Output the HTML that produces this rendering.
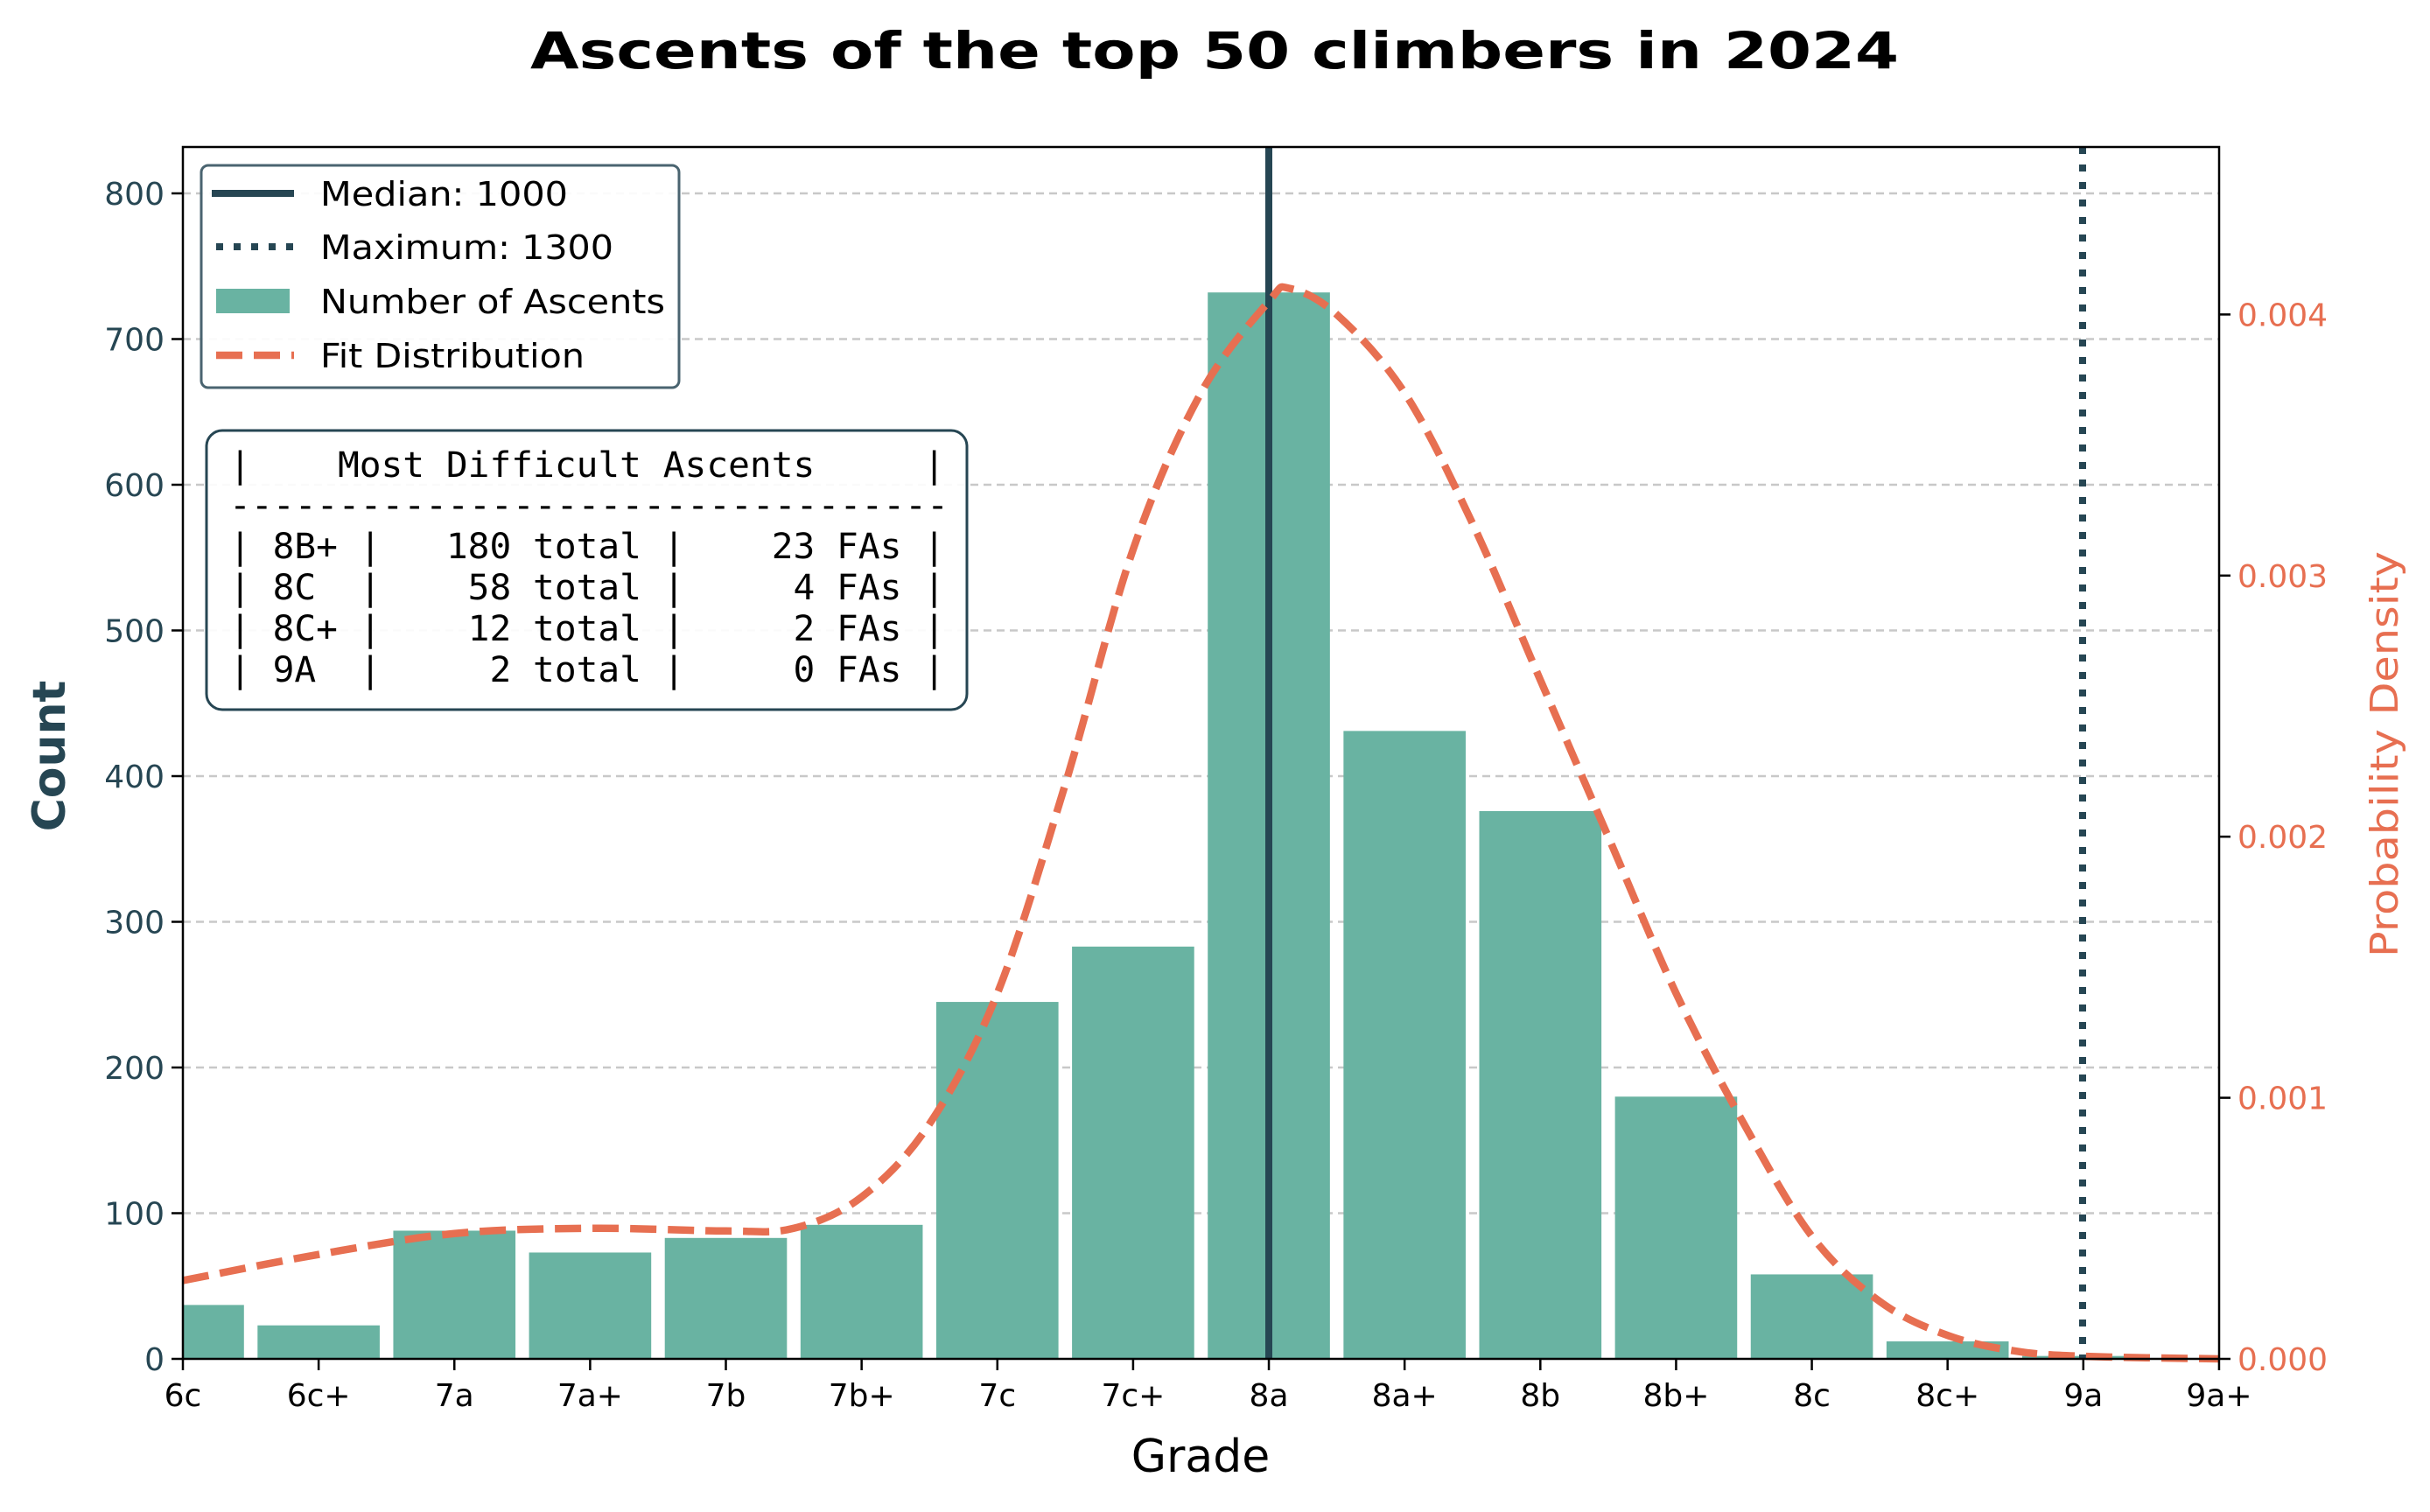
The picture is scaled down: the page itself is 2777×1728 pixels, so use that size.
<!DOCTYPE html>
<html><head><meta charset="utf-8"><style>
html,body{margin:0;padding:0;background:#fff;}
svg{display:block;}
text{font-family:"DejaVu Sans","Liberation Sans",sans-serif;}
.mono text{font-family:"DejaVu Sans Mono","Liberation Mono",monospace;white-space:pre;}
</style></head><body>
<svg id="s" width="2777" height="1728" viewBox="0 0 2777 1728" xmlns="http://www.w3.org/2000/svg">
<rect width="2777" height="1728" fill="#fff"/>
<g id="grid"></g>
<g id="bars"></g>
<line x1="1450" y1="168" x2="1450" y2="1553" stroke="#264653" stroke-width="8"/>
<line x1="2380" y1="168" x2="2380" y2="1553" stroke="#264653" stroke-width="8" stroke-dasharray="8,12"/>
<path id="curve" fill="none" stroke="#e76f51" stroke-width="8.5" stroke-dasharray="30,13"/>
<rect x="209" y="168" width="2327" height="1385" fill="none" stroke="#000" stroke-width="2.5"/>
<g id="ticks"></g>
<text x="1388" y="78" font-size="58" font-weight="bold" text-anchor="middle" textLength="1564" lengthAdjust="spacingAndGlyphs">Ascents of the top 50 climbers in 2024</text>
<text x="1372" y="1682" font-size="52" text-anchor="middle">Grade</text>
<text transform="translate(74,864) rotate(-90)" font-size="52" font-weight="bold" fill="#264653" text-anchor="middle">Count</text>
<text transform="translate(2740,862) rotate(-90)" font-size="44" fill="#e76f51" text-anchor="middle" textLength="464" lengthAdjust="spacingAndGlyphs">Probability Density</text>
<rect x="230" y="189" width="546" height="254" rx="8" fill="#fff" fill-opacity="0.9" stroke="#4a6470" stroke-width="3"/>
<line x1="242" y1="221" x2="336" y2="221" stroke="#264653" stroke-width="8"/>
<line x1="247" y1="282" x2="336" y2="282" stroke="#264653" stroke-width="8" stroke-dasharray="8,12"/>
<rect x="247" y="330" width="84" height="28" fill="#69b3a2"/>
<line x1="247" y1="406" x2="336" y2="406" stroke="#e76f51" stroke-width="8.5" stroke-dasharray="30,13"/>
<g font-size="38">
<text x="366" y="235" textLength="283" lengthAdjust="spacingAndGlyphs">Median: 1000</text>
<text x="366" y="296" textLength="335" lengthAdjust="spacingAndGlyphs">Maximum: 1300</text>
<text x="366" y="358" textLength="394" lengthAdjust="spacingAndGlyphs">Number of Ascents</text>
<text x="366" y="420" textLength="302" lengthAdjust="spacingAndGlyphs">Fit Distribution</text>
</g>
<rect x="236" y="492" width="869" height="319" rx="18" fill="#fff" fill-opacity="0.9" stroke="#264653" stroke-width="3"/>
<g class="mono" font-size="40" fill="#000">
<text x="262" y="545" xml:space="preserve" textLength="818" lengthAdjust="spacingAndGlyphs">|    Most Difficult Ascents     |</text>
<text x="262" y="591" xml:space="preserve" textLength="822" lengthAdjust="spacingAndGlyphs">---------------------------------</text>
<text x="262" y="638" xml:space="preserve" textLength="818" lengthAdjust="spacingAndGlyphs">| 8B+ |   180 total |    23 FAs |</text>
<text x="262" y="685" xml:space="preserve" textLength="818" lengthAdjust="spacingAndGlyphs">| 8C  |    58 total |     4 FAs |</text>
<text x="262" y="732" xml:space="preserve" textLength="818" lengthAdjust="spacingAndGlyphs">| 8C+ |    12 total |     2 FAs |</text>
<text x="262" y="779" xml:space="preserve" textLength="818" lengthAdjust="spacingAndGlyphs">| 9A  |     2 total |     0 FAs |</text>
</g>
</svg>
<script>
const NS="http://www.w3.org/2000/svg";
const X0=209,DX=155.13,Y0=1553,YS=1.665,PS=298400;
function el(p,t,a,txt){const e=document.createElementNS(NS,t);for(const k in a)e.setAttribute(k,a[k]);if(txt!==undefined)e.textContent=txt;document.getElementById(p).appendChild(e);return e;}
for(let v=100;v<=800;v+=100){const y=Y0-v*YS;el("grid","line",{x1:209,x2:2536,y1:y,y2:y,stroke:"#c8c8c8","stroke-width":2.5,"stroke-dasharray":"9,6"});}
const vals=[37,23,88,73,83,92,245,283,732,431,376,180,58,12,2];
vals.forEach((v,i)=>{let x=X0+i*DX-0.45*DX,w=0.9*DX;if(x<X0){w-=X0-x;x=X0;}el("bars","rect",{x:x,y:Y0-v*YS,width:w,height:v*YS,fill:"#69b3a2"});});
const labs=["6c","6c+","7a","7a+","7b","7b+","7c","7c+","8a","8a+","8b","8b+","8c","8c+","9a","9a+"];
labs.forEach((l,i)=>{const x=X0+i*DX;el("ticks","line",{x1:x,x2:x,y1:1553,y2:1566,stroke:"#000","stroke-width":2.5});el("ticks","text",{x:x,y:1607,"font-size":36,"text-anchor":"middle"},l);});
for(let v=0;v<=800;v+=100){const y=Y0-v*YS;el("ticks","line",{x1:196,x2:209,y1:y,y2:y,stroke:"#000","stroke-width":2.5});el("ticks","text",{x:188,y:y+13,"font-size":36,"text-anchor":"end",fill:"#264653"},String(v));}
for(let k=0;k<=4;k++){const y=Y0-k*0.001*PS;el("ticks","line",{x1:2536,x2:2549,y1:y,y2:y,stroke:"#000","stroke-width":2.5});el("ticks","text",{x:2557,y:y+13,"font-size":36,fill:"#e76f51"},(k*0.001).toFixed(3));}
const P=[[0,.0003],[1,.0004],[2,.00048],[3,.0005],[4,.00049],[4.5,.0005],[5,.00062],[5.5,.0009],[6,.0014],[6.5,.0022],[7,.0031],[7.5,.0037],[8,.00405],[8.15,.0041],[8.5,.004],[9,.0037],[9.5,.0032],[10,.0026],[10.5,.002],[11,.0014],[11.5,.0009],[12,.00047],[12.5,.00022],[13,.00009],[13.5,.00003],[14,.00001],[15,0]];
const pts=P.map(p=>[X0+p[0]*DX,Y0-p[1]*PS]);
let d="M"+pts[0][0]+","+pts[0][1];
for(let i=0;i<pts.length-1;i++){const p0=pts[Math.max(i-1,0)],p1=pts[i],p2=pts[i+1],p3=pts[Math.min(i+2,pts.length-1)];
const c1=[p1[0]+(p2[0]-p0[0])/6,p1[1]+(p2[1]-p0[1])/6],c2=[p2[0]-(p3[0]-p1[0])/6,p2[1]-(p3[1]-p1[1])/6];
d+=` C${c1[0]},${c1[1]} ${c2[0]},${c2[1]} ${p2[0]},${p2[1]}`;}
document.getElementById("curve").setAttribute("d",d);
</script>
</body></html>
